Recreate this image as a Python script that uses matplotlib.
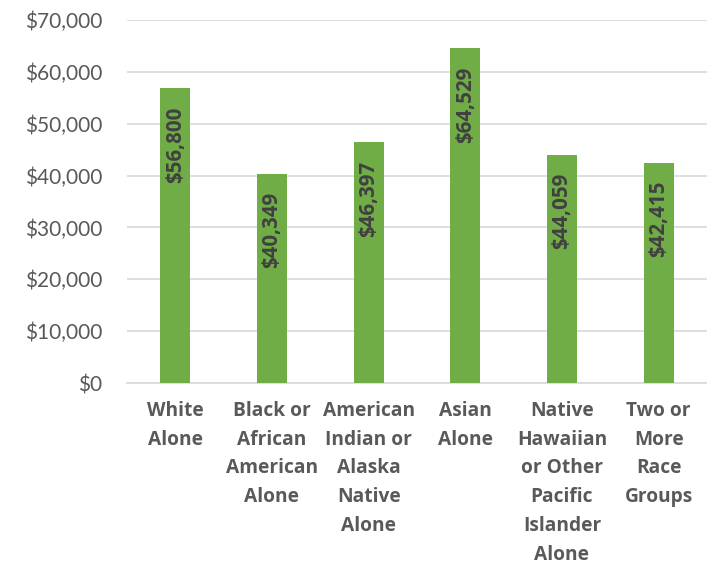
import matplotlib.pyplot as plt
from matplotlib.ticker import FuncFormatter

categories = ["White\nAlone", "Black or\nAfrican\nAmerican\nAlone", "American\nIndian or\nAlaska\nNative\nAlone",
              "Asian\nAlone", "Native\nHawaiian\nor Other\nPacific\nIslander\nAlone", "Two or\nMore\nRace\nGroups"]
incomes = [56800, 40349, 46397, 64529, 44059, 42415]
yticks = [0, 10000, 20000, 30000, 40000, 50000, 60000, 70000]

plt.rcParams['font.family'] = ['Lato', 'DejaVu Sans']
bold_font = ['Open Sans', 'DejaVu Sans']

fig = plt.figure(figsize=(7.07, 5.73), dpi=100)
ax = fig.add_axes([127 / 707, 1 - 383 / 573, 580 / 707, 363 / 573])

x = list(range(len(categories)))
bars = ax.bar(x, incomes, width=0.31, color="#70AD47", zorder=3)

for xi, v in zip(x, incomes):
    ax.annotate("${:,}".format(v), (xi, v), xytext=(0, -13), textcoords="offset points",
                rotation=90, ha="center", va="top", fontsize=14.8, fontweight="bold",
                family=bold_font, color="#404040", zorder=4)

ax.set_xlim(-0.5, len(categories) - 0.5)
ax.set_ylim(0, 70000)
ax.set_yticks(yticks)
ax.yaxis.set_major_formatter(FuncFormatter(lambda v, p: "${:,.0f}".format(v)))
ax.grid(axis="y", color="#D9D9D9", linewidth=1.2, zorder=0)

ax.set_xticks(x)
ax.set_xticklabels(categories, fontsize=13.8, fontweight="bold", family=bold_font,
                   color="#595959", linespacing=1.58)

for s in ["top", "right", "left"]:
    ax.spines[s].set_visible(False)
ax.spines["bottom"].set_color("#D9D9D9")
ax.spines["bottom"].set_linewidth(1.2)
ax.tick_params(axis="both", length=0)
ax.tick_params(axis="y", labelsize=15, labelcolor="#595959", pad=18)
ax.tick_params(axis="x", pad=13)

fig.savefig("out.png", dpi=100)
